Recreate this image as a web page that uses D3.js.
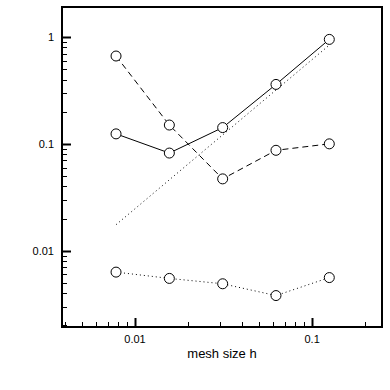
<!DOCTYPE html>
<html>
<head>
<meta charset="utf-8">
<script src="https://cdn.jsdelivr.net/npm/d3@7"></script>
<style>
  body { margin: 0; background: #fff; }
  text { font-family: "Liberation Sans", Arial, sans-serif; fill: #000; }
</style>
</head>
<body>
<div id="chart"></div>
<script>
// mesh sizes h = 1/128 ... 1/8
var meshSizes = [0.0078125, 0.015625, 0.03125, 0.0625, 0.125];

var solidErr  = [0.124, 0.082, 0.142, 0.36, 0.95];
var dashedErr = [0.664, 0.15, 0.047, 0.087, 0.10];
var dottedErr = [0.0063, 0.0055, 0.0049, 0.0038, 0.0056];

// reference slope line (no markers)
var refX = [0.0078125, 0.125];
var refY = [0.0175, 0.84];

var yTickLabels = [1, 0.1, 0.01];
var xTickLabels = [0.01, 0.1];

var width = 390;
var height = 390;
var margin = { left: 62, top: 7, right: 8, bottom: 63 };

var svg = d3.select("#chart")
    .append("svg")
    .attr("width", width)
    .attr("height", height);

var x = d3.scaleLog()
    .domain([0.00387, 0.248])
    .range([margin.left, width - margin.right]);

var y = d3.scaleLog()
    .domain([0.00193, 1.91])
    .range([height - margin.bottom, margin.top]);

// frame
svg.append("rect")
    .attr("x", margin.left)
    .attr("y", margin.top)
    .attr("width", width - margin.left - margin.right)
    .attr("height", height - margin.top - margin.bottom)
    .attr("fill", "none")
    .attr("stroke", "#000")
    .attr("stroke-width", 2);

// minor + major ticks (inward)
var xTicks = x.ticks();
var yTicks = y.ticks();

function isMajor(v) {
    var l = Math.log10(v);
    return Math.abs(l - Math.round(l)) < 1e-6;
}

var bottom = height - margin.bottom;

svg.append("g")
    .selectAll("line")
    .data(xTicks)
    .enter()
    .append("line")
    .attr("x1", function (d) { return Math.round(x(d)) + 0.5; })
    .attr("x2", function (d) { return Math.round(x(d)) + 0.5; })
    .attr("y1", bottom)
    .attr("y2", function (d) { return bottom - (isMajor(d) ? 9 : 5); })
    .attr("stroke", "#000")
    .attr("stroke-width", function (d) { return isMajor(d) ? 2 : 1; });

svg.append("g")
    .selectAll("text")
    .data(xTickLabels)
    .enter()
    .append("text")
    .attr("x", function (d) { return x(d); })
    .attr("y", bottom + 16)
    .attr("text-anchor", "middle")
    .style("font-size", "11px")
    .text(function (d) { return d; });

svg.append("g")
    .selectAll("line")
    .data(yTicks)
    .enter()
    .append("line")
    .attr("x1", margin.left)
    .attr("x2", function (d) { return margin.left + (isMajor(d) ? 9 : 5); })
    .attr("y1", function (d) { return Math.round(y(d)) + 0.5; })
    .attr("y2", function (d) { return Math.round(y(d)) + 0.5; })
    .attr("stroke", "#000")
    .attr("stroke-width", function (d) { return isMajor(d) ? 2 : 1; });

svg.append("g")
    .selectAll("text")
    .data(yTickLabels)
    .enter()
    .append("text")
    .attr("x", margin.left - 8)
    .attr("y", function (d) { return y(d) + 4; })
    .attr("text-anchor", "end")
    .style("font-size", "11px")
    .text(function (d) { return d; });

svg.append("text")
    .attr("x", (margin.left + width - margin.right) / 2)
    .attr("y", 358)
    .attr("text-anchor", "middle")
    .style("font-size", "13px")
    .text("mesh size h");

var line = d3.line()
    .x(function (d) { return x(d[0]); })
    .y(function (d) { return y(d[1]); });

function zip(xs, ys) {
    return xs.map(function (v, i) { return [v, ys[i]]; });
}

svg.append("path")
    .datum(zip(refX, refY))
    .attr("d", line)
    .attr("fill", "none")
    .attr("stroke", "#000")
    .attr("stroke-width", 1)
    .attr("stroke-dasharray", "1,3");

var series = [
    { vals: solidErr, dash: null },
    { vals: dashedErr, dash: "6,4" },
    { vals: dottedErr, dash: "1,3" }
];

series.forEach(function (s) {
    var pts = zip(meshSizes, s.vals);
    svg.append("path")
        .datum(pts)
        .attr("d", line)
        .attr("fill", "none")
        .attr("stroke", "#000")
        .attr("stroke-width", 1)
        .attr("stroke-dasharray", s.dash);

    svg.append("g")
        .selectAll("circle")
        .data(pts)
        .enter()
        .append("circle")
        .attr("cx", function (d) { return x(d[0]); })
        .attr("cy", function (d) { return y(d[1]); })
        .attr("r", 5)
        .attr("fill", "#fff")
        .attr("stroke", "#000")
        .attr("stroke-width", 1);
});
</script>
</body>
</html>
